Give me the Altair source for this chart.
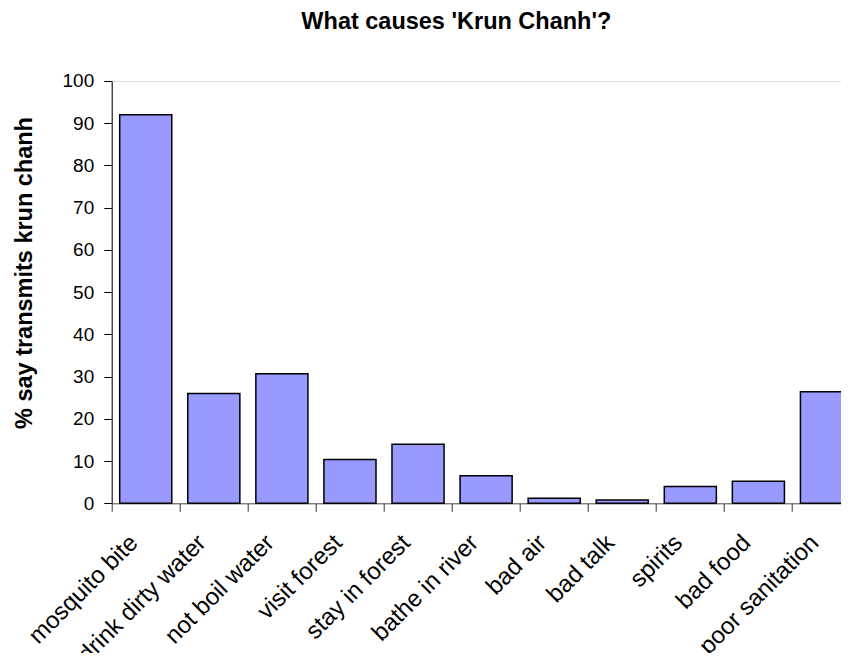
import altair as alt
import pandas as pd

categories = ["mosquito bite", "drink dirty water", "not boil water", "visit forest",
              "stay in forest", "bathe in river", "bad air", "bad talk", "spirits",
              "bad food", "poor sanitation"]
values = [92.0, 26.0, 30.7, 10.4, 14.0, 6.5, 1.2, 0.8, 4.0, 5.2, 26.4]
y_ticks = list(range(0, 101, 10))

df = pd.DataFrame({"cause": categories, "pct": values})

FONT = "Liberation Sans"

chart = alt.Chart(df).mark_bar(
    color="#9999FF", stroke="black", strokeWidth=1.5,
    width=alt.RelativeBandSize(0.765)
).encode(
    x=alt.X("cause:N", sort=categories,
            scale=alt.Scale(paddingInner=0, paddingOuter=0, range=[0, 748.8]),
            axis=alt.Axis(title=None, labelAngle=-45, labelAlign="right",
                          labelBaseline="top", labelFontSize=24, labelFont=FONT,
                          labelColor="black", bandPosition=0, tickSize=8,
                          tickColor="#333333", domainColor="#555555",
                          labelPadding=19, labelOffset=-20, labelOverlap=False,
                          labelLimit=400)),
    y=alt.Y("pct:Q",
            scale=alt.Scale(domain=[0, 100], nice=False),
            axis=alt.Axis(title="% say transmits krun chanh", values=y_ticks,
                          grid=False, tickSize=8, tickColor="black",
                          domainColor="black", labelFontSize=19,
                          labelFont=FONT, labelColor="black", labelPadding=10,
                          titleFont=FONT, titleFontSize=23.5, titleFontWeight="bold",
                          titleColor="black", titleX=-80, titleY=191.5,
                          titleAlign="center", titleBaseline="alphabetic",
                          titleAngle=270))
).properties(
    width=729.3,
    height=422.3,
    autosize=alt.AutoSizeParams(type="none"),
    padding={"left": 103.7, "top": 73, "right": 0, "bottom": 150},
    title=alt.Title("What causes 'Krun Chanh'?", font=FONT, fontSize=23.5,
                    fontWeight="bold", color="black", anchor="middle",
                    frame="group", dx=-20, offset=19.5, baseline="alphabetic")
).configure_view(stroke=None).configure(background="white")

chart.save("out.html", embed_options={"renderer": "svg", "actions": False})
